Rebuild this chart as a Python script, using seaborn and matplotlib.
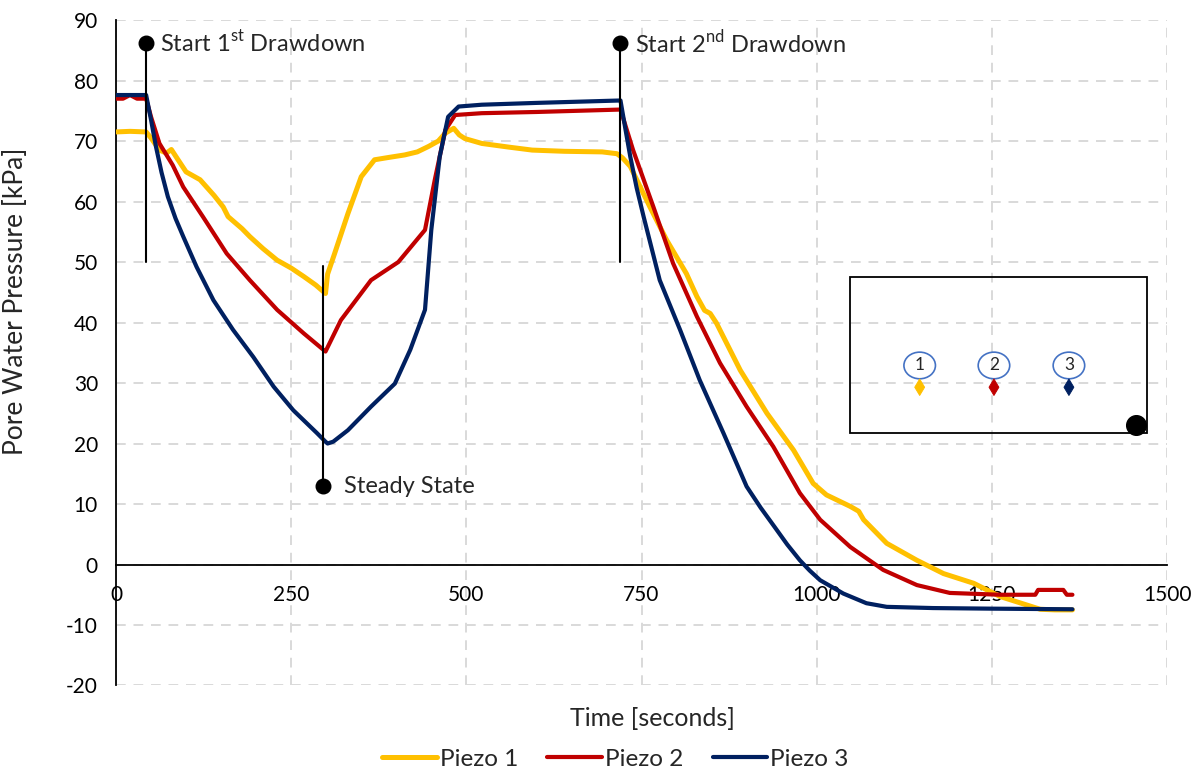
import matplotlib
matplotlib.use("Agg")
import matplotlib.pyplot as plt
from matplotlib.patches import Ellipse, Rectangle
import seaborn as sns
import pandas as pd

# piezometer readings
t1 = [0, 20, 43, 50, 62, 72, 79, 88, 100, 120, 140, 153, 160, 165, 180, 191, 210, 230, 250, 268,
      285, 299, 302, 312, 331, 350, 369, 390, 412, 430, 446, 460, 470, 482, 490, 498, 510, 522, 560,
      594, 640, 694, 715, 723, 734, 762, 786, 814, 829, 840, 848, 857, 891, 929, 967, 995, 1014, 1048,
      1060, 1067, 1100, 1143, 1181, 1224, 1262, 1300, 1319, 1340, 1365]
p1 = [71.5, 71.6, 71.5, 70.5, 68.5, 68.0, 68.6, 67.0, 64.9, 63.6, 61.0, 59.1, 57.5, 57.0, 55.5, 54.2,
      52.2, 50.3, 49.0, 47.6, 46.2, 44.8, 48.0, 51.4, 58.0, 64.1, 66.9, 67.3, 67.7, 68.2, 69.1, 70.0,
      71.3, 72.1, 71.0, 70.4, 70.0, 69.6, 69.0, 68.5, 68.3, 68.2, 67.9, 67.2, 65.8, 59.1, 53.6, 48.1,
      44.3, 42.0, 41.5, 39.9, 32.1, 25.0, 18.9, 13.4, 11.5, 9.6, 8.8, 7.4, 3.5, 0.7, -1.5, -3.1, -5.3,
      -6.7, -7.4, -7.5, -7.5]

t2 = [0, 10, 20, 30, 43, 50, 62, 81, 96, 124, 158, 191, 230, 268, 299, 321, 364, 403, 441, 455, 470,
      484, 522, 600, 720, 738, 767, 795, 829, 862, 900, 938, 976, 1005, 1048, 1095, 1143, 1190, 1262,
      1312, 1316, 1352, 1357, 1365]
p2 = [77.0, 77.0, 77.6, 77.0, 77.0, 74.0, 69.6, 66.0, 62.4, 57.5, 51.4, 47.0, 42.1, 38.2, 35.2, 40.4,
      47.0, 50.0, 55.3, 63.6, 71.8, 74.3, 74.6, 74.8, 75.2, 68.5, 59.1, 49.8, 41.0, 33.3, 26.1, 19.5,
      11.8, 7.4, 2.9, -0.9, -3.4, -4.7, -5.0, -5.0, -4.2, -4.2, -5.0, -5.0]

t3 = [0, 43, 50, 57, 65, 74, 85, 96, 115, 139, 167, 196, 225, 253, 287, 299, 302, 310, 331, 364, 398,
      420, 441, 450, 462, 474, 489, 522, 600, 720, 727, 734, 743, 753, 776, 805, 833, 867, 900, 920,
      940, 958, 976, 990, 1005, 1038, 1071, 1100, 1166, 1250, 1365]
p3 = [77.6, 77.6, 73.5, 69.1, 64.8, 60.8, 57.2, 54.2, 49.2, 43.7, 38.8, 34.3, 29.4, 25.5, 21.7, 20.3,
      20.0, 20.3, 22.2, 26.1, 29.9, 35.5, 42.1, 55.3, 67.4, 74.0, 75.7, 76.0, 76.3, 76.7, 72.0, 67.4,
      62.3, 57.5, 47.0, 38.8, 30.5, 21.7, 12.9, 9.4, 6.2, 3.3, 0.7, -1.0, -2.6, -4.8, -6.4, -7.0, -7.2,
      -7.3, -7.4]

series = ["Piezo 1", "Piezo 2", "Piezo 3"]
colors = ["#FFC000", "#C00000", "#002060"]

# events
event_t = [43, 720]
event_labels = ["Start 1$^{\\mathrm{st}}$ Drawdown", "Start 2$^{\\mathrm{nd}}$ Drawdown"]
steady_t = 296

# inset sketch
inset_x = [1147, 1253, 1360]
inset_labels = ["1", "2", "3"]

sns.set_theme(style="white")
plt.rcParams["font.family"] = ["Lato", "DejaVu Sans"]
plt.rcParams["mathtext.fontset"] = "custom"
plt.rcParams["mathtext.rm"] = "Lato"
plt.rcParams["axes.unicode_minus"] = False

fig = plt.figure(figsize=(12.02, 7.73), dpi=100)
ax = fig.add_axes([0.0965, 0.1132, 0.8744, 0.8609])

df = pd.concat([
    pd.DataFrame({"Time": t, "Pressure": p, "Sensor": s})
    for t, p, s in zip([t1, t2, t3], [p1, p2, p3], series)
])
for s, c, lw in zip(series, colors, [3.6, 3.0, 3.0]):
    sub = df[df["Sensor"] == s]
    sns.lineplot(data=sub, x="Time", y="Pressure", color=c, linewidth=lw, label=s,
                 sort=False, estimator=None, ax=ax, zorder=3)

ax.set_xlim(0, 1500)
ax.set_ylim(-20, 90)
ax.set_xticks(range(0, 1501, 250))
ax.set_yticks(range(-20, 91, 10))
ax.grid(True, color="#D9D9D9", linestyle=(0, (5, 4)), linewidth=1.4)
ax.tick_params(axis="both", length=0, labelsize=15, colors="black")
ax.tick_params(axis="x", pad=15)
ax.tick_params(axis="y", pad=13)
for side in ["top", "right"]:
    ax.spines[side].set_visible(False)
ax.spines["bottom"].set_position(("data", 0))
ax.spines["bottom"].set_color("black")
ax.spines["bottom"].set_linewidth(1.3)
ax.spines["left"].set_color("black")
ax.spines["left"].set_linewidth(1.3)

ax.set_xlabel("Time [seconds]", fontsize=18)
ax.set_ylabel("Pore Water Pressure [kPa]", fontsize=19)
ax.xaxis.set_label_coords(0.51, -0.033)
ax.yaxis.set_label_coords(-0.084, 0.578)

# drawdown markers
for t, lab in zip(event_t, event_labels):
    ax.plot([t, t], [50, 86.2], color="black", linewidth=1.5, zorder=4)
    ax.scatter([t], [86.2], s=110, color="black", zorder=5)
    ax.text(t + 20, 86.2, lab, fontsize=17, va="center", ha="left")

ax.plot([steady_t, steady_t], [49.3, 12.9], color="black", linewidth=1.5, zorder=4)
ax.scatter([steady_t], [12.9], s=110, color="black", zorder=5)
ax.text(steady_t + 30, 12.9, "Steady State", fontsize=17, va="center", ha="left")

# inset sketch of piezometer positions
ax.add_patch(Rectangle((1047, 21.7), 425, 25.9, fill=False, edgecolor="black", linewidth=1.3, zorder=4))
for x, lab, c in zip(inset_x, inset_labels, colors):
    ax.add_patch(Ellipse((x, 32.9), 45, 4.4, fill=False, edgecolor="#4472C4", linewidth=1.2, zorder=5))
    ax.text(x, 32.9, lab, fontsize=12.5, ha="center", va="center", zorder=6)
sns.scatterplot(x=inset_x, y=[29.3] * 3, hue=inset_labels, palette=colors, marker="d", s=70,
                edgecolor=None, legend=False, ax=ax, zorder=6)
ax.scatter([1456], [23], s=200, color="black", zorder=6)

handles, labels = ax.get_legend_handles_labels()
ax.get_legend().remove()
fig.legend(handles, labels, loc="center", bbox_to_anchor=(0.512, 0.018), ncol=3, frameon=False,
           fontsize=17.5, handlelength=2.25, handletextpad=0.12, columnspacing=1.2)

fig.savefig("out.png", dpi=100)
